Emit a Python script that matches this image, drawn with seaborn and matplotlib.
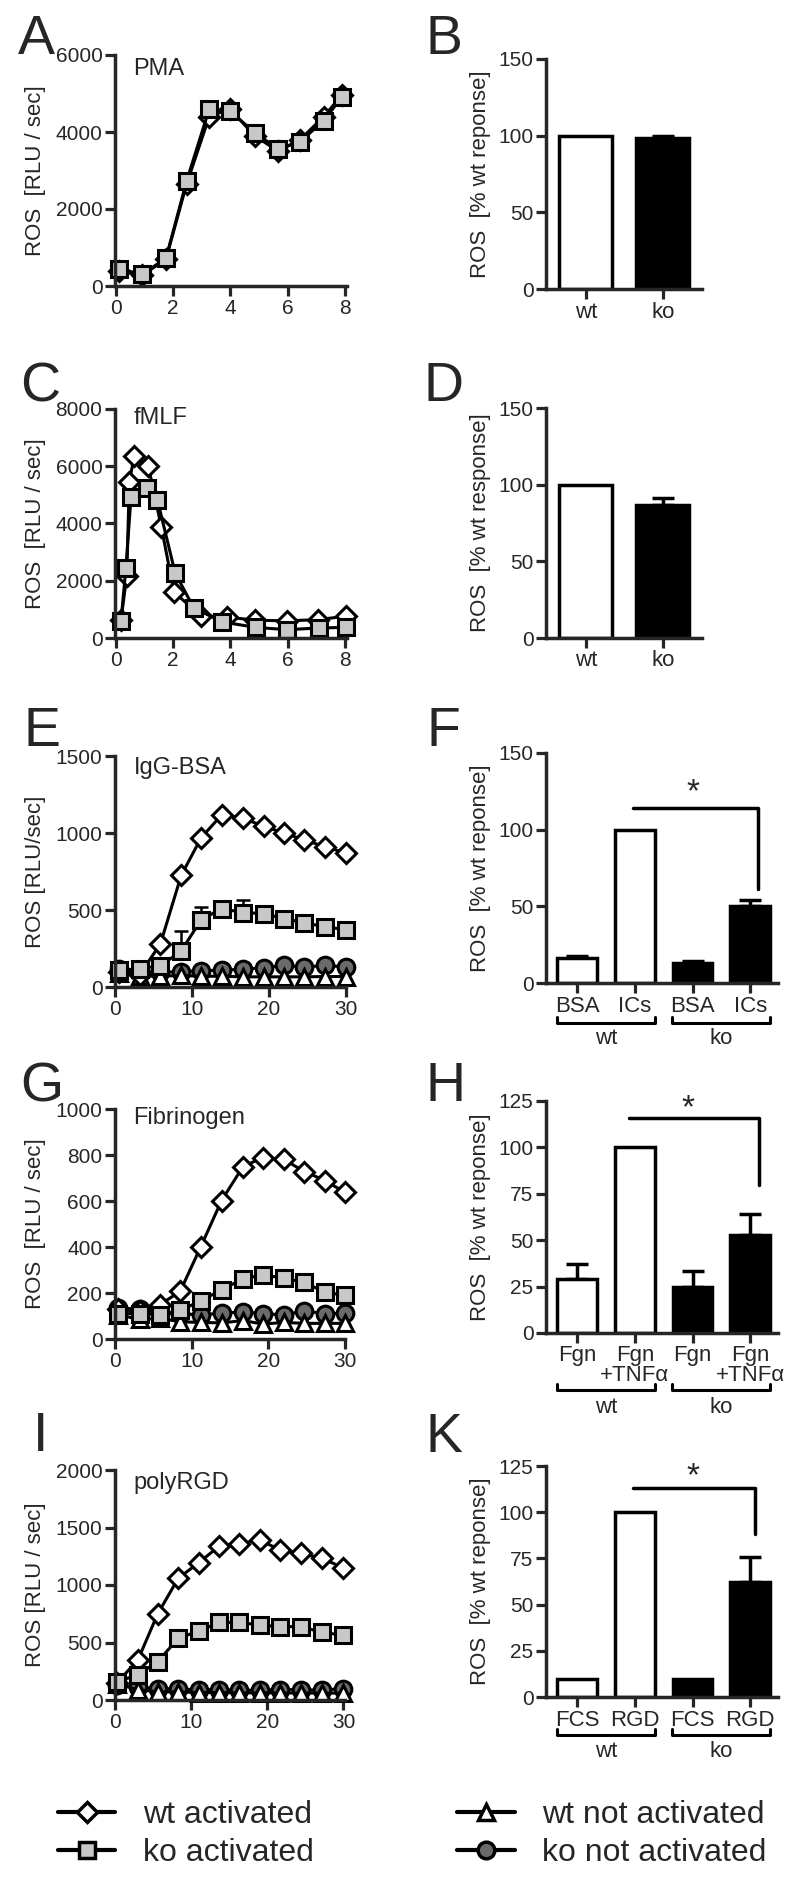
import numpy as np
import pandas as pd
import seaborn as sns
import matplotlib.pyplot as plt
from matplotlib.lines import Line2D

sns.set_style('ticks')
plt.rcParams['font.family'] = ['Liberation Sans', 'DejaVu Sans']

# ---- kinetics data ----
pma_x = [0.12, 0.93, 1.75, 2.47, 3.26, 3.98, 4.85, 5.67, 6.43, 7.26, 7.88]
pma_wt = [380, 280, 700, 2650, 4400, 4600, 3900, 3500, 3800, 4400, 4950]
pma_ko = [433, 312, 719, 2727, 4597, 4545, 3983, 3558, 3749, 4294, 4900]

fmlf_wt_x = [0.18, 0.38, 0.47, 0.64, 1.13, 1.59, 2.03, 2.97, 3.89, 4.87, 5.96, 7.05, 8.03]
fmlf_wt = [640, 2170, 5440, 6360, 6020, 3870, 1600, 780, 730, 620, 600, 640, 760]
fmlf_ko_x = [0.18, 0.35, 0.53, 1.1, 1.45, 2.07, 2.72, 3.72, 4.89, 5.98, 7.08, 8.03]
fmlf_ko = [600, 2440, 4940, 5230, 4830, 2270, 1050, 560, 370, 290, 350, 370]

igg_x = [0.5, 3.2, 5.9, 8.6, 11.2, 13.9, 16.6, 19.3, 21.9, 24.6, 27.3, 30.0]
igg_wt_act = [100, 80, 280, 725, 970, 1120, 1095, 1045, 1000, 955, 910, 870]
igg_ko_act = [108, 119, 137, 234, 438, 509, 483, 477, 444, 418, 390, 373]
igg_ko_err = [0, 0, 0, 130, 82, 0, 81, 0, 0, 0, 0, 0]
igg_wt_non = [90, 72, 70, 75, 70, 70, 66, 66, 66, 66, 68, 68]
igg_ko_non = [120, 105, 95, 100, 105, 110, 115, 125, 140, 130, 140, 130]

fib_x = [0.4, 3.2, 5.9, 8.5, 11.2, 13.9, 16.7, 19.3, 22.0, 24.7, 27.4, 30.0]
fib_wt_act = [130, 120, 150, 207, 402, 602, 750, 789, 781, 728, 689, 637]
fib_ko_act = [110, 110, 106, 124, 166, 214, 262, 279, 265, 246, 203, 190]
fib_wt_non = [105, 85, 90, 75, 72, 70, 80, 65, 72, 68, 68, 68]
fib_ko_non = [135, 130, 115, 110, 105, 112, 118, 110, 105, 122, 110, 112]

rgd_x = [0.2, 3.0, 5.6, 8.3, 11.0, 13.7, 16.3, 19.0, 21.7, 24.4, 27.2, 29.9]
rgd_wt_act = [145, 348, 748, 1058, 1194, 1339, 1357, 1391, 1304, 1275, 1232, 1151]
rgd_ko_act = [159, 217, 333, 536, 600, 675, 675, 652, 638, 638, 588, 565]
rgd_wt_non = [140, 90, 72, 70, 65, 65, 62, 62, 62, 60, 60, 60]
rgd_ko_non = [130, 110, 100, 95, 90, 90, 85, 85, 90, 90, 85, 100]

# ---- bar data ----
b_labels = ['wt', 'ko']
b_vals = [100, 98.5]
b_err = [0, 1]
d_labels = ['wt', 'ko']
d_vals = [100, 87]
d_err = [0, 4]
f_labels = ['BSA', 'ICs', 'BSA', 'ICs']
f_vals = [16, 100, 13, 50]
f_err = [1.5, 0, 1.5, 4]
h_labels = ['Fgn', 'Fgn\n+TNFα', 'Fgn', 'Fgn\n+TNFα']
h_vals = [29, 100, 25, 53]
h_err = [8, 0, 8.5, 11]
k_labels = ['FCS', 'RGD', 'FCS', 'RGD']
k_vals = [10, 100, 9.5, 62.5]
k_err = [0, 0, 0, 13.5]

W, H = 800, 1894
fig = plt.figure(figsize=(W / 100, H / 100), dpi=100)


def box(left, top, right, bottom):
    return fig.add_axes([left / W, 1 - bottom / H, (right - left) / W, (bottom - top) / H])


STY = {
    'wt_act': dict(marker='D', markersize=10, markerfacecolor='white'),
    'ko_act': dict(marker='s', markersize=12, markerfacecolor='#c8c8c8'),
    'wt_non': dict(marker='^', markersize=11, markerfacecolor='white'),
    'ko_non': dict(marker='o', markersize=12, markerfacecolor='#6a6a6a'),
}


def style_axes(ax, lw=2.5):
    sns.despine(ax=ax)
    for s in ['left', 'bottom']:
        ax.spines[s].set_linewidth(lw)
    ax.tick_params(direction='out', length=7, width=2.3, labelsize=15, pad=2)


def kinetics(ax, series, xlim, xticks, ylim, yticks, title, ty, ylabel):
    for x, y, key in series:
        sns.lineplot(x=x, y=y, ax=ax, color='black', linewidth=2.2, estimator=None, sort=False,
                     markeredgecolor='black', markeredgewidth=2.2, clip_on=False, **STY[key])
    ax.set_xlim(*xlim)
    ax.set_ylim(*ylim)
    ax.set_xticks(xticks)
    ax.set_yticks(yticks)
    ax.set_ylabel(ylabel, fontsize=16, labelpad=7)
    ax.text(0.08, ty, title, transform=ax.transAxes, fontsize=17, va='center', ha='left')
    style_axes(ax)


def bars(ax, labels, vals, errs, xlim, ymax, yticks, ylabel):
    colors = ['white', 'black'] if len(vals) == 2 else ['white', 'white', 'black', 'black']
    df = pd.DataFrame({'cond': list(range(len(vals))), 'value': vals})
    sns.barplot(data=df, x='cond', y='value', hue='cond', palette=colors, width=0.69,
                edgecolor='black', linewidth=2.5, legend=False, ax=ax, zorder=2)
    pos = [i for i, e in enumerate(errs) if e > 0]
    if pos:
        ax.errorbar(pos, [vals[i] for i in pos], yerr=[[0] * len(pos), [errs[i] for i in pos]],
                    fmt='none', ecolor='black', elinewidth=2.5, capsize=8, capthick=2.5, zorder=1)
    ax.set_xlim(*xlim)
    ax.set_ylim(0, ymax)
    ax.set_yticks(yticks)
    ax.set_xticks(range(len(vals)))
    ax.set_xticklabels(labels, fontsize=16, linespacing=0.9)
    ax.set_xlabel('')
    ax.set_ylabel(ylabel, fontsize=16, labelpad=5)
    style_axes(ax)
    ax.tick_params(axis='x', labelsize=16)


def group_brackets(ax, yb, yl):
    tr = ax.get_xaxis_transform()
    for (a, b), name in [((-0.35, 1.35), 'wt'), ((1.65, 3.35), 'ko')]:
        ax.plot([a, a, b, b], [yb + 0.025, yb, yb, yb + 0.025], color='black', lw=2.2,
                transform=tr, clip_on=False)
        ax.text((a + b) / 2, yl, name, transform=tr, ha='center', va='center', fontsize=16)


def sig(ax, x1, x2, y, ydrop, xs, ys):
    ax.plot([x1, x2, x2], [y, y, ydrop], color='black', lw=2.5, clip_on=False)
    ax.text(xs, ys, '*', ha='center', va='center', fontsize=24)


# A
ax = box(115, 55, 347, 286)
kinetics(ax, [(pma_x, pma_wt, 'wt_act'), (pma_x, pma_ko, 'ko_act')],
         (-0.03, 8.07), [0, 2, 4, 6, 8], (0, 6000), [0, 2000, 4000, 6000],
         'PMA', 0.94, 'ROS  [RLU / sec]')
# B
ax = box(546, 59, 702, 289)
bars(ax, b_labels, b_vals, b_err, (-0.52, 1.51), 150, [0, 50, 100, 150], 'ROS  [% wt reponse]')
# C
ax = box(115, 409, 347, 638)
kinetics(ax, [(fmlf_wt_x, fmlf_wt, 'wt_act'), (fmlf_ko_x, fmlf_ko, 'ko_act')],
         (-0.03, 8.07), [0, 2, 4, 6, 8], (0, 8000), [0, 2000, 4000, 6000, 8000],
         'fMLF', 0.96, 'ROS  [RLU / sec]')
# D
ax = box(546, 408, 702, 638)
bars(ax, d_labels, d_vals, d_err, (-0.52, 1.51), 150, [0, 50, 100, 150], 'ROS  [% wt response]')
# E
ax = box(115, 756, 346, 987)
ax.errorbar([igg_x[i] for i in range(len(igg_x)) if igg_ko_err[i] > 0],
            [igg_ko_act[i] for i in range(len(igg_x)) if igg_ko_err[i] > 0],
            yerr=[[0] * 3, [e for e in igg_ko_err if e > 0]],
            fmt='none', ecolor='black', elinewidth=1.8, capsize=5, capthick=1.8)
kinetics(ax, [(igg_x, igg_ko_non, 'ko_non'), (igg_x, igg_wt_non, 'wt_non'),
              (igg_x, igg_wt_act, 'wt_act'), (igg_x, igg_ko_act, 'ko_act')],
         (0, 30), [0, 10, 20, 30], (0, 1500), [0, 500, 1000, 1500],
         'IgG-BSA', 0.948, 'ROS [RLU/sec]')
# F
ax = box(546, 753, 778, 983)
bars(ax, f_labels, f_vals, f_err, (-0.54, 3.48), 150, [0, 50, 100, 150], 'ROS  [% wt reponse]')
sig(ax, 0.96, 3.14, 114, 61, 2.0, 124)
group_brackets(ax, -0.174, -0.243)
# G
ax = box(115, 1109, 345, 1339)
kinetics(ax, [(fib_x, fib_ko_non, 'ko_non'), (fib_x, fib_wt_non, 'wt_non'),
              (fib_x, fib_wt_act, 'wt_act'), (fib_x, fib_ko_act, 'ko_act')],
         (0, 30), [0, 10, 20, 30], (0, 1000), [0, 200, 400, 600, 800, 1000],
         'Fibrinogen', 0.96, 'ROS  [RLU / sec]')
# H
ax = box(546, 1101, 778, 1333)
bars(ax, h_labels, h_vals, h_err, (-0.54, 3.48), 125, [0, 25, 50, 75, 100, 125], 'ROS  [% wt reponse]')
sig(ax, 0.9, 3.15, 116, 80, 1.92, 121)
group_brackets(ax, -0.246, -0.323)
# I
ax = box(115, 1470, 345, 1700)
kinetics(ax, [(rgd_x, rgd_ko_non, 'ko_non'), (rgd_x, rgd_wt_non, 'wt_non'),
              (rgd_x, rgd_wt_act, 'wt_act'), (rgd_x, rgd_ko_act, 'ko_act')],
         (0, 30.2), [0, 10, 20, 30], (0, 2000), [0, 500, 1000, 1500, 2000],
         'polyRGD', 0.943, 'ROS [RLU / sec]')
# K
ax = box(546, 1466, 778, 1697)
bars(ax, k_labels, k_vals, k_err, (-0.54, 3.48), 125, [0, 25, 50, 75, 100, 125], 'ROS  [% wt reponse]')
sig(ax, 0.96, 3.08, 113, 88, 2.0, 119)
group_brackets(ax, -0.165, -0.238)

# panel letters
for letter, x, y in [('A', 18, 40), ('B', 425, 40), ('C', 20, 387), ('D', 423, 387),
                     ('E', 23, 732), ('F', 427, 732), ('G', 20, 1088), ('H', 425, 1087),
                     ('I', 33, 1437), ('K', 425, 1438)]:
    fig.text(x / W, 1 - y / H, letter, fontsize=40, ha='left', va='center')


# legend
def handle(key, label):
    return Line2D([], [], color='black', linewidth=3, markeredgecolor='black',
                  markeredgewidth=2.5, label=label, **STY[key])


leg_kw = dict(loc='upper left', frameon=False, fontsize=23, handlelength=1.8, handletextpad=0.85,
              labelspacing=0.25, borderpad=0, borderaxespad=0)
fig.legend(handles=[handle('wt_act', 'wt activated'), handle('ko_act', 'ko activated')],
           bbox_to_anchor=(58 / W, 1 - 1800 / H), **leg_kw)
fig.legend(handles=[handle('wt_non', 'wt not activated'), handle('ko_non', 'ko not activated')],
           bbox_to_anchor=(457 / W, 1 - 1800 / H), **leg_kw)

fig.savefig('out.png', dpi=100)
